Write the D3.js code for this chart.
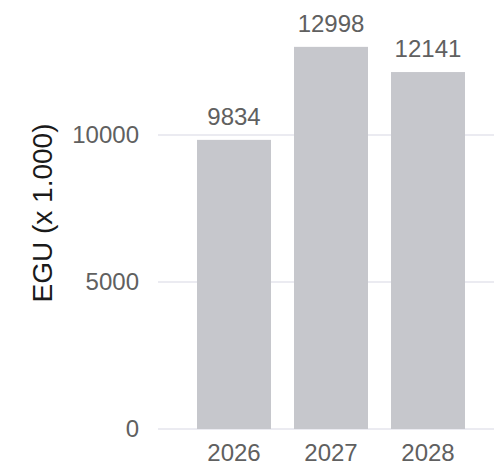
<!DOCTYPE html>
<html>
<head>
<meta charset="utf-8">
<script src="https://cdn.jsdelivr.net/npm/d3@7"></script>
<style>
  html, body { margin: 0; padding: 0; background: #fff; }
  text { font-family: "Liberation Sans", Arial, Helvetica, sans-serif; }
</style>
</head>
<body>
<div id="chart"></div>
<script>
// data
const years = ["2026", "2027", "2028"];
const values = [9834, 12998, 12141];
const yTicks = [0, 5000, 10000];

const width = 494, height = 465;

const svg = d3.select("#chart").append("svg")
  .attr("width", width)
  .attr("height", height);

const y = d3.scaleLinear().domain([0, 10000]).range([429, 135]);
const x = d3.scaleBand().domain(years).range([177.6, 484.4])
  .paddingInner(0.237).paddingOuter(0.2);

// gridlines
svg.append("g").selectAll("line")
  .data(yTicks)
  .join("line")
  .attr("x1", 158).attr("x2", 494)
  .attr("y1", d => y(d)).attr("y2", d => y(d))
  .attr("stroke", "#e4e4ec")
  .attr("stroke-width", 1.5);

// y tick labels
svg.append("g").selectAll("text")
  .data(yTicks)
  .join("text")
  .attr("x", 139)
  .attr("y", d => y(d))
  .attr("dy", "0.35em")
  .attr("text-anchor", "end")
  .attr("font-size", 24)
  .attr("fill", "#606060")
  .text(d => d);

// bars
svg.append("g").selectAll("rect")
  .data(values)
  .join("rect")
  .attr("x", (d, i) => x(years[i]))
  .attr("width", x.bandwidth())
  .attr("y", d => y(d))
  .attr("height", d => y(0) - y(d))
  .attr("fill", "#c6c7cc");

// value labels
svg.append("g").selectAll("text")
  .data(values)
  .join("text")
  .attr("x", (d, i) => x(years[i]) + x.bandwidth() / 2)
  .attr("y", d => y(d) - 15)
  .attr("text-anchor", "middle")
  .attr("font-size", 24)
  .attr("fill", "#606060")
  .text(d => d);

// x labels
svg.append("g").selectAll("text")
  .data(years)
  .join("text")
  .attr("x", d => x(d) + x.bandwidth() / 2)
  .attr("y", 461)
  .attr("text-anchor", "middle")
  .attr("font-size", 24)
  .attr("fill", "#606060")
  .text(d => d);

// y axis title
svg.append("text")
  .attr("transform", "translate(52,213) rotate(-90)")
  .attr("text-anchor", "middle")
  .attr("font-size", 28)
  .attr("fill", "#1a1a1a")
  .text("EGU (x 1.000)");
</script>
</body>
</html>
